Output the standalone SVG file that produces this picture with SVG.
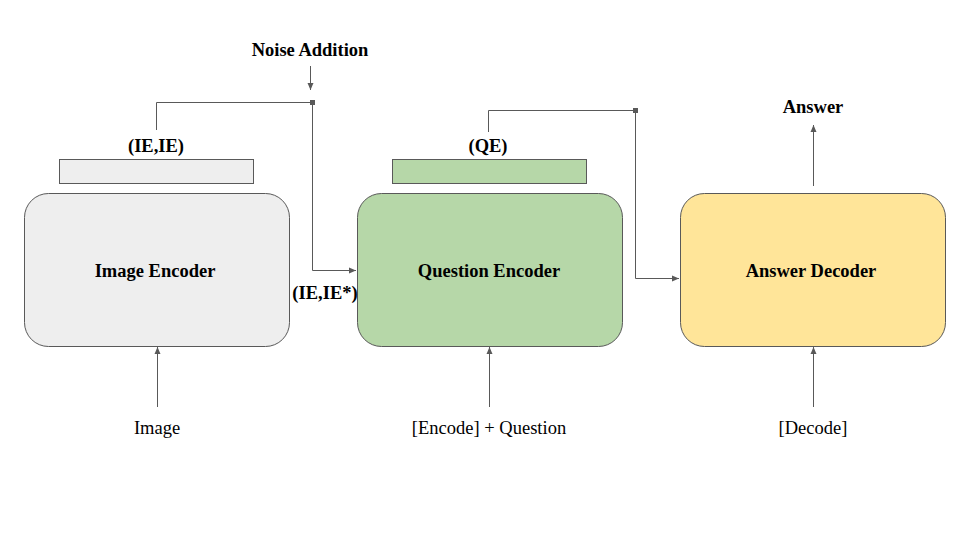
<svg xmlns="http://www.w3.org/2000/svg" width="960" height="540" viewBox="0 0 960 540">
<defs>
<marker id="arr" markerWidth="8" markerHeight="8" refX="7" refY="4" orient="auto" markerUnits="userSpaceOnUse">
<path d="M0,1 L7,4 L0,7 Z" fill="#595959"/>
</marker>
<style>
.box{stroke:#595959;stroke-width:1}
.bar{stroke:#595959;stroke-width:1}
.ln{fill:none;stroke:#595959;stroke-width:1}
.b{font-family:"Liberation Serif",serif;font-weight:bold;font-size:18.5px;fill:#000;text-anchor:middle}
.r{font-family:"Liberation Serif",serif;font-size:18.5px;fill:#000;text-anchor:middle}
</style>
</defs>
<rect width="960" height="540" fill="#fff"/>
<g id="image-encoder">
<rect class="bar" x="59.5" y="159.5" width="194" height="24" fill="#eeeeee"/>
<text class="b" x="156" y="152">(IE,IE)</text>
<rect class="box" x="24.5" y="193.5" width="265" height="153" rx="24" fill="#eeeeee"/>
<text class="b" x="155" y="277">Image Encoder</text>
</g>
<g id="question-encoder">
<rect class="bar" x="392.5" y="159.5" width="194" height="24" fill="#b6d7a8"/>
<text class="b" x="488" y="152">(QE)</text>
<rect class="box" x="357.5" y="193.5" width="265" height="153" rx="24" fill="#b6d7a8"/>
<text class="b" x="489" y="277">Question Encoder</text>
</g>
<g id="answer-decoder">
<rect class="box" x="680.5" y="193.5" width="265" height="153" rx="24" fill="#ffe599"/>
<text class="b" x="811" y="277">Answer Decoder</text>
</g>
<g id="labels">
<text class="b" x="310" y="56">Noise Addition</text>
<text class="b" x="325" y="299">(IE,IE*)</text>
<text class="b" x="813" y="113">Answer</text>
<text class="r" x="157" y="434">Image</text>
<text class="r" x="489" y="434">[Encode] + Question</text>
<text class="r" x="813" y="434">[Decode]</text>
</g>
<g id="connectors">
<path class="ln" d="M310.5,66 V90" marker-end="url(#arr)"/>
<path class="ln" d="M156.5,130 V102.5 H312.5 V270.5 H356" marker-end="url(#arr)"/>
<rect x="310" y="100" width="5" height="5" fill="#595959"/>
<path class="ln" d="M488.5,132 V110.5 H635.5 V278.5 H679" marker-end="url(#arr)"/>
<rect x="633" y="108" width="5" height="5" fill="#595959"/>
<path class="ln" d="M157.5,407 V347" marker-end="url(#arr)"/>
<path class="ln" d="M489.5,407 V347" marker-end="url(#arr)"/>
<path class="ln" d="M813.5,407 V347" marker-end="url(#arr)"/>
<path class="ln" d="M813.5,186 V125" marker-end="url(#arr)"/>
</g>
</svg>
